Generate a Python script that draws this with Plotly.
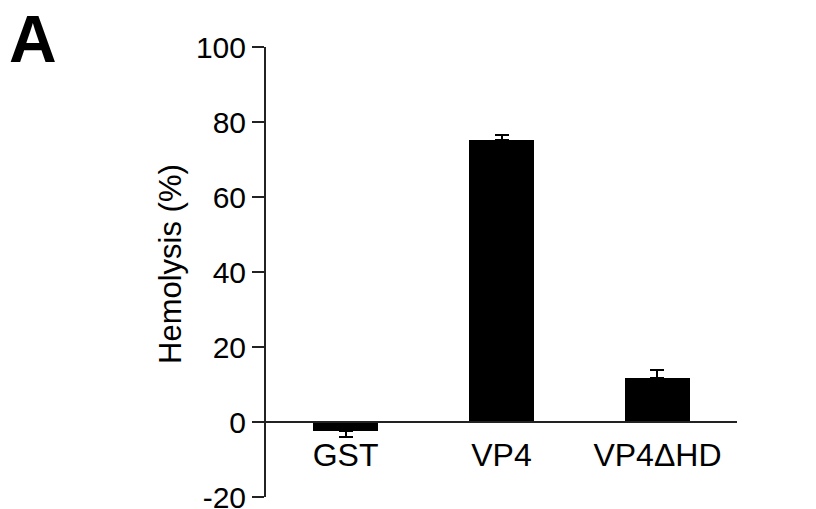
import plotly.graph_objects as go

categories = ["GST", "VP4", "VP4\u0394HD"]
hemolysis = [-2.4, 75.2, 11.7]
err_plus = [0.0, 1.3, 2.2]
err_minus = [1.7, 0.0, 0.0]
y_ticks = [-20, 0, 20, 40, 60, 80, 100]
y_ticktext = ["-20", "0", "20", "40", "60", "80", "100"]
y_title = "Hemolysis (%)"
panel_label = "A"

FONT = "Arial, 'Liberation Sans', Helvetica, sans-serif"

W, H = 816, 509
L, R, T, B = 266, 79, 47, 12
PW, PH = W - L - R, H - T - B


def px_x(page_x):
    return (page_x - L) / PW


def px_y(page_y):
    return (H - B - page_y) / PH


fig = go.Figure()
fig.add_trace(go.Bar(
    x=[0, 1, 2],
    y=hemolysis,
    width=0.415,
    marker=dict(color="black", line=dict(width=0)),
    error_y=dict(type="data", symmetric=False, array=err_plus, arrayminus=err_minus,
                 color="black", thickness=2, width=7),
    showlegend=False,
    hoverinfo="skip",
))

fig.update_layout(
    width=W, height=H,
    margin=dict(l=L, r=R, t=T, b=B, pad=0, autoexpand=False),
    paper_bgcolor="white", plot_bgcolor="white",
    font=dict(family=FONT, size=30, color="black"),
    bargap=0,
    xaxis=dict(
        range=[-0.51, 2.51],
        tickmode="array", tickvals=[0, 1, 2], ticktext=categories,
        anchor="free", position=1/6,
        showline=True, linecolor="#222", linewidth=2,
        ticks="outside", ticklen=5, tickcolor="rgba(0,0,0,0)",
        showgrid=False, zeroline=False, automargin=False,
        tickfont=dict(size=32),
    ),
    yaxis=dict(
        range=[-20, 100],
        tickmode="array", tickvals=y_ticks, ticktext=y_ticktext,
        showline=True, linecolor="#222", linewidth=2,
        ticks="outside", ticklen=12, tickwidth=2, tickcolor="#222",
        showgrid=False, zeroline=False, automargin=False,
        tickfont=dict(size=30),
        ticklabeloverflow="allow",
    ),
    annotations=[
        dict(
            text=y_title, xref="paper", yref="paper",
            x=px_x(170), y=px_y(264), textangle=-90,
            xanchor="center", yanchor="middle", showarrow=False,
            font=dict(size=31, family=FONT, color="black"),
        ),
        dict(
            text="<b>" + panel_label + "</b>", xref="paper", yref="paper",
            x=px_x(7), y=px_y(0),
            xanchor="left", yanchor="top", showarrow=False,
            font=dict(size=66, family=FONT, color="black"),
        ),
    ],
)

fig.write_html("out.html", config={"displayModeBar": False},
               post_script="document.body.style.margin='0';")
